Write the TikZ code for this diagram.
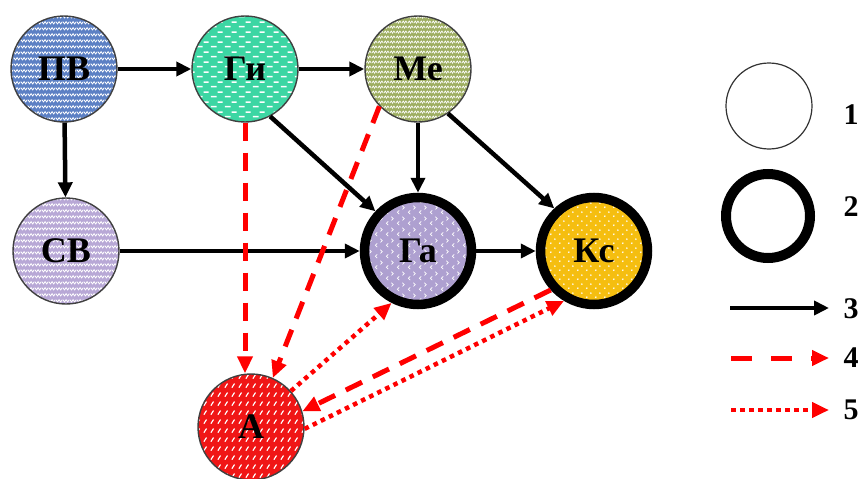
\documentclass[tikz,border=0pt]{standalone}
\usepackage{fontspec}
\setmainfont{Liberation Serif}
\usetikzlibrary{arrows.meta,patterns.meta}

% fill textures for the state circles
\tikzdeclarepattern{name=wavy,type=uncolored,
  bounding box={(0,0) and (7pt,5.5pt)},tile size={(7pt,5.5pt)},
  code={\draw[line width=0.9pt] (-0.2pt,3.6pt)--(1.75pt,1.2pt)--(3.5pt,3.6pt)--(5.25pt,1.2pt)--(7.2pt,3.6pt);}}
\tikzdeclarepattern{name=herring,type=uncolored,
  bounding box={(0,0) and (6pt,5pt)},tile size={(6pt,5pt)},
  code={\draw[line width=0.8pt] (-0.2pt,1pt)--(1.5pt,3.5pt)--(3pt,1pt)--(4.5pt,3.5pt)--(6.2pt,1pt);}}
\tikzdeclarepattern{name=dashrows,type=uncolored,
  bounding box={(0,0) and (14pt,10pt)},tile size={(14pt,10pt)},
  code={\draw[line width=1.6pt] (1pt,2.5pt)--(7pt,2.5pt) (8pt,7.5pt)--(13.5pt,7.5pt);}}
\tikzdeclarepattern{name=chevrons,type=uncolored,
  bounding box={(0,0) and (11pt,11pt)},tile size={(11pt,11pt)},
  code={\draw[line width=0.8pt] (3.5pt,1pt)--(1.5pt,3pt)--(3.5pt,5pt) (7pt,6pt)--(9pt,8pt)--(7pt,10pt);}}
\tikzdeclarepattern{name=sparsedots,type=uncolored,
  bounding box={(0,0) and (9pt,9pt)},tile size={(9pt,9pt)},
  code={\fill (2pt,2pt) circle (1pt) (6.5pt,6.5pt) circle (1pt);}}
\tikzdeclarepattern{name=slashes,type=uncolored,
  bounding box={(0,0) and (7pt,9pt)},tile size={(7pt,9pt)},
  code={\draw[line width=1.3pt] (1pt,1.5pt)--(4pt,6pt);}}

\definecolor{cPV}{RGB}{92,128,196}
\definecolor{cGi}{RGB}{60,214,163}
\definecolor{cMe}{RGB}{158,174,98}
\definecolor{cSV}{RGB}{184,168,214}
\definecolor{cGa}{RGB}{174,160,208}
\definecolor{cKs}{RGB}{245,190,16}
\definecolor{cA}{RGB}{240,22,22}

\begin{document}
\begin{tikzpicture}[x=1pt,y=-1pt,
  lbl/.style={font=\fontsize{36}{36}\selectfont\bfseries},
  state/.style={circle,minimum size=106pt,inner sep=0pt,draw=black!75,line width=1.4pt,lbl,pattern color=white},
  keystate/.style={state,draw=black,line width=9.5pt,minimum size=107pt},
  tex/.style 2 args={preaction={fill=#1},pattern=#2},
  flow/.style={black,line width=4.5pt,-{Triangle[length=15pt,width=14pt]}},
  influence/.style={red,line width=5pt,dash pattern=on 18pt off 12pt,-{Triangle[length=17pt,width=15pt]}},
  feedback/.style={red,line width=4.5pt,dash pattern=on 4.5pt off 4.5pt,-{Triangle[length=17pt,width=15pt]}},
  keytext/.style={font=\fontsize{30}{30}\selectfont\bfseries,anchor=west}
]
\useasboundingbox (0,0) rectangle (868,479);

% states
\node[state,tex={cPV}{wavy}]         (PV) at (64,69)   {ПВ};
\node[state,tex={cGi}{dashrows}]     (Gi) at (245,69)  {Ги};
\node[state,tex={cMe}{herring}]      (Me) at (418,69)  {Ме};
\node[state,tex={cSV}{wavy}]         (SV) at (66,251)  {СВ};
\node[keystate,tex={cGa}{chevrons}]  (Ga) at (418,251) {Га};
\node[keystate,tex={cKs}{sparsedots}](Ks) at (594,251) {Кс};
\node[state,tex={cA}{slashes}]       (A)  at (251,427) {А};

% direct links
\draw[flow] (PV) -- (Gi);
\draw[flow] (Gi) -- (Me);
\draw[flow] (PV) -- (SV);
\draw[flow] (SV) -- (Ga);
\draw[flow] (Ga) -- (Ks);
\draw[flow] (Me) -- (Ga);
\draw[flow] (Gi.-62) -- (Ga.137);
\draw[flow] (Me.-56) -- (Ks.133);

% influences on А
\draw[influence] (Gi.south) -- (Gi |- A.north);
\draw[influence] (Me.-136) -- (A.66);
\draw[influence] (Ks.-138) -- (A.17);

% feedback from А
\draw[feedback] (A.42) -- (Ga.-117);
\draw[feedback] (A.-2) -- (Ks.-121);

% key
\node[circle,minimum size=86pt,inner sep=0pt,draw=black!80,line width=1.2pt] (k1) at (769,106) {};
\node[circle,minimum size=84pt,inner sep=0pt,draw=black,line width=10pt] (k2) at (768,216) {};
\node[keytext] (t1) at (840,115) {1};
\node[keytext] (t2) at (840,207) {2};
\node[keytext] (t3) at (840,309) {3};
\node[keytext] (t4) at (840,358) {4};
\node[keytext] (t5) at (840,410) {5};
\coordinate (a3) at (730,308); \coordinate (b3) at (829,308);
\coordinate (a4) at (731,358); \coordinate (b4) at (829,358);
\coordinate (a5) at (731,410); \coordinate (b5) at (829,410);
\draw[flow] (a3) -- (b3);
\draw[influence,dash pattern=on 21pt off 19pt] (a4) -- (b4);
\draw[feedback] (a5) -- (b5);
\end{tikzpicture}
\end{document}
